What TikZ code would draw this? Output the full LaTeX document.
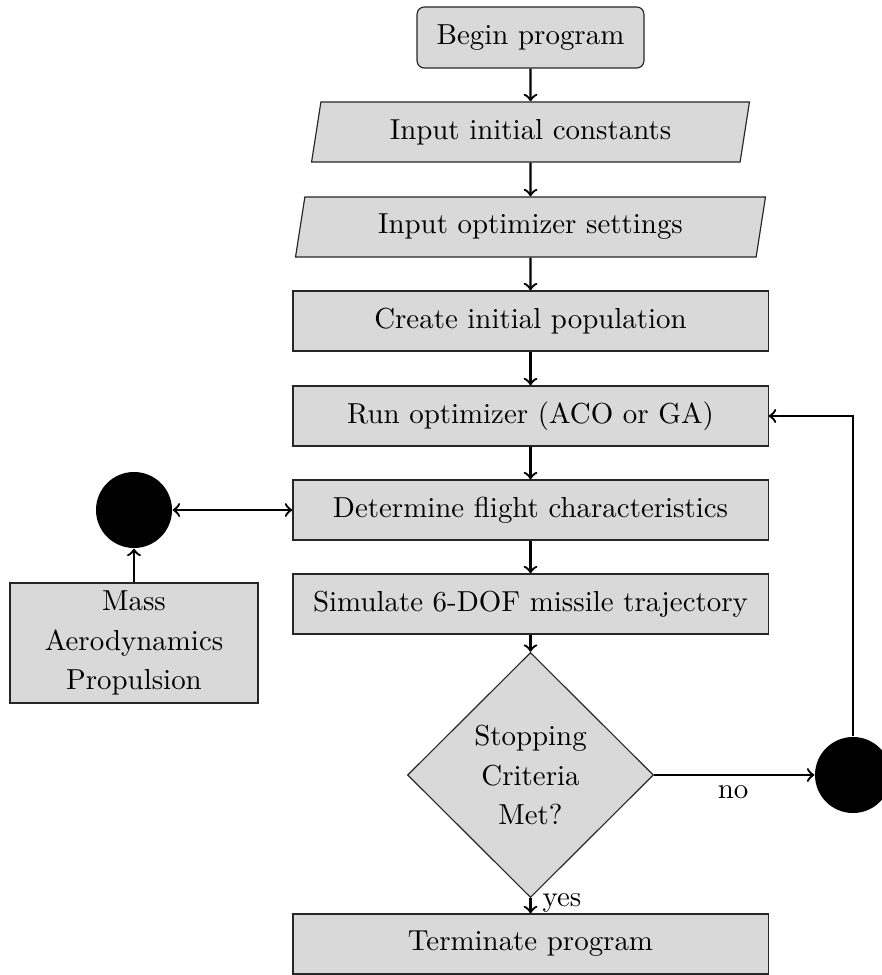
\documentclass[tikz,border=0pt]{standalone}
\usetikzlibrary{shapes.geometric}
\begin{document}
\begin{tikzpicture}[x=0.346pt,y=-0.346pt,
  base/.style={draw=black!85, thin, fill=black!15, inner sep=0pt, align=center, font=\fontsize{10}{13.6}\selectfont},
  box/.style={base, rectangle, minimum width=164.4pt, minimum height=20.8pt},
  startbox/.style={base, rectangle, rounded corners=2.5pt, minimum width=78.5pt, minimum height=21.1pt},
  iobox/.style={base, trapezium, trapezium left angle=70, trapezium right angle=110, trapezium stretches body, minimum height=20.8pt},
  decision/.style={base, diamond, minimum width=85.1pt, minimum height=84.8pt},
  dot/.style={circle, fill=black, draw=none, minimum size=26.3pt, inner sep=0pt},
  arr/.style={->, thick},
  lbl/.style={font=\fontsize{10}{12}\selectfont, inner sep=0pt}]
\useasboundingbox (0,0) rectangle (881,975);
\node[startbox] (begin) at (530.5,37.5) {Begin program};
\node[iobox, minimum width=151.5pt] (inc) at (530.5,132) {Input initial constants};
\node[iobox, minimum width=162.6pt] (ios) at (530.5,227) {Input optimizer settings};
\node[box] (create) at (530.5,321) {Create initial population};
\node[box] (run) at (530.5,416) {Run optimizer (ACO or GA)};
\node[box] (det) at (530.5,510) {Determine flight characteristics};
\node[box] (sim) at (530.5,604) {Simulate 6-DOF missile trajectory};
\node[decision] (stop) at (530.5,775) {Stopping\\Criteria\\Met?};
\node[box] (term) at (530.5,944) {Terminate program};
\node[dot] (c1) at (134,510) {};
\node[base, rectangle, minimum width=85.8pt, minimum height=41.5pt] (mass) at (134,643) {Mass\\Aerodynamics\\Propulsion};
\node[dot] (c2) at (853,775) {};
\draw[arr] (begin) -- (inc);
\draw[arr] (inc) -- (ios);
\draw[arr] (ios) -- (create);
\draw[arr] (create) -- (run);
\draw[arr] (run) -- (det);
\draw[arr] (det) -- (sim);
\draw[arr] (sim) -- (stop);
\draw[arr] (stop) -- (term);
\draw[<->, thick] (c1) -- (det);
\draw[arr] (mass) -- (c1);
\draw[arr] (stop) -- (c2);
\draw[arr] (c2.north) |- (run.east);
\node[lbl] (no) at (733,792) {no};
\node[lbl] (yes) at (562,903) {yes};
\end{tikzpicture}
\end{document}
